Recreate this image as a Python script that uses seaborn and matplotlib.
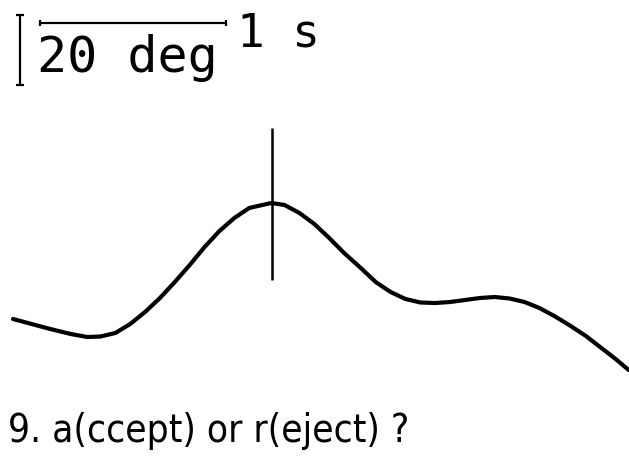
import matplotlib
matplotlib.use("Agg")
import matplotlib.pyplot as plt
import pandas as pd
import seaborn as sns

# Eye position trace (time in s, horizontal position in deg)
time_s = [0.00, 0.09, 0.20, 0.31, 0.40, 0.47, 0.55, 0.63, 0.71, 0.79,
          0.87, 0.95, 1.03, 1.11, 1.19, 1.27, 1.34, 1.39, 1.46, 1.54,
          1.62, 1.70, 1.78, 1.87, 1.95, 2.03, 2.11, 2.19, 2.27, 2.35,
          2.43, 2.51, 2.59, 2.67, 2.75, 2.83, 2.91, 2.99, 3.08, 3.16,
          3.24, 3.31]
position_deg = [5.14, 3.86, 2.29, 0.86, 0.00, 0.14, 1.14, 3.71, 7.14, 11.14,
                15.71, 20.57, 25.71, 30.29, 34.00, 36.86, 37.71, 38.29, 37.71, 35.43,
                32.29, 28.29, 24.00, 19.71, 15.71, 12.86, 10.86, 9.86, 9.71, 10.00,
                10.57, 11.14, 11.43, 11.00, 10.00, 8.29, 6.00, 3.43, 0.29, -3.00,
                -6.29, -9.43]

# Detected event marker
event_time_s = 1.39
event_top_deg = 59.7
event_bottom_deg = 16.3

# Calibration bars
scale_deg = 20
scale_s = 1
scale_origin_s = 0.038
scale_top_deg = 92.0
hbar_deg = 89.7
hbar_start_s = 0.145

trial_number = 9
prompt = f"{trial_number}. a(ccept) or r(eject) ?"

sns.set_theme(style="white")

fig = plt.figure(figsize=(6.29, 4.63), dpi=100)
ax = fig.add_axes([0, 0, 1, 1])

df = pd.DataFrame({"time": time_s, "position": position_deg})
sns.lineplot(data=df, x="time", y="position", color="black", linewidth=3.0,
             sort=False, ax=ax, solid_capstyle="round", solid_joinstyle="round")

ax.vlines(event_time_s, event_bottom_deg, event_top_deg, color="black",
          linewidth=1.8)

# vertical calibration bar (deg) with end caps
bar_kw = dict(color="black", linewidth=1.6)
ax.vlines(scale_origin_s, scale_top_deg - scale_deg, scale_top_deg, **bar_kw)
cap_w = 0.02
for yv in (scale_top_deg, scale_top_deg - scale_deg):
    ax.hlines(yv, scale_origin_s - cap_w, scale_origin_s + cap_w, **bar_kw)

# horizontal calibration bar (s) with end ticks
ax.hlines(hbar_deg, hbar_start_s, hbar_start_s + scale_s, **bar_kw)
tick_h = 0.9
for xv in (hbar_start_s, hbar_start_s + scale_s):
    ax.vlines(xv, hbar_deg - tick_h, hbar_deg + tick_h, **bar_kw)

mono = dict(family="DejaVu Sans Mono", color="black", va="baseline", ha="left")
ax.text(0.128, 75.7, f"{scale_deg} deg", fontsize=36, **mono)
ax.text(1.204, 82.9, f"{scale_s} s", fontsize=33, **mono)

ax.text(-0.027, -30.0, prompt, family="DejaVu Sans", fontstretch="condensed",
        fontsize=27.8, color="black", va="baseline", ha="left")

ax.set_xlim(-13 / 186, 616 / 186)
ax.set_ylim(-126 / 3.5, 337 / 3.5)
ax.axis("off")

fig.savefig("out.png", dpi=100, facecolor="white")
